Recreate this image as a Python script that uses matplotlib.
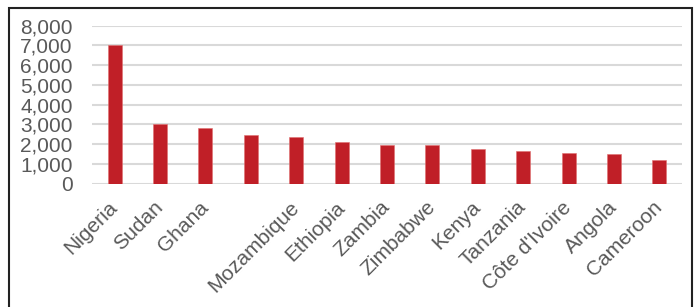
import matplotlib
matplotlib.use("Agg")
import matplotlib.pyplot as plt
from matplotlib.patches import Rectangle
from matplotlib.ticker import FuncFormatter

countries = ["Nigeria", "Sudan", "Ghana", "", "Mozambique", "Ethiopia", "Zambia",
             "Zimbabwe", "Kenya", "Tanzania", "Côte d'Ivoire", "Angola", "Cameroon"]
values = [7020, 3030, 2790, 2440, 2370, 2080, 1970, 1970, 1760, 1650, 1530, 1490, 1210]
yticks = [0, 1000, 2000, 3000, 4000, 5000, 6000, 7000, 8000]

bar_color = "#c01f27"
text_color = "#595959"
grid_color = "#d9d9d9"

plt.rcParams["font.family"] = ["Liberation Sans", "DejaVu Sans"]

fig = plt.figure(figsize=(6.97, 3.07), dpi=100)
ax = fig.add_axes([92 / 697, (307 - 183.5) / 307, 590 / 697, 157.8 / 307])

x = range(len(countries))
ax.bar(x, values, width=0.31, color=bar_color, edgecolor="#e07070", linewidth=0.4, zorder=3)

ax.set_xlim(-0.5, len(countries) - 0.5)
ax.set_ylim(0, 8000)
ax.set_yticks(yticks)
ax.yaxis.set_major_formatter(FuncFormatter(lambda v, p: f"{int(v):,}"))
ax.grid(axis="y", color=grid_color, linewidth=1.5, zorder=0)
ax.set_axisbelow(True)

for s in ax.spines.values():
    s.set_visible(False)

ax.tick_params(axis="y", length=0, pad=14, labelsize=15, labelcolor=text_color)
ax.tick_params(axis="x", length=0, pad=15, labelsize=15, labelcolor=text_color)
ax.set_xticks(list(x))
ax.set_xticklabels(countries, rotation=45, ha="right", va="center", rotation_mode="anchor")

# frame around the whole picture
fig.patches.append(Rectangle((9 / 697, -0.05), 683 / 697, 1.05 - 8 / 307,
                             transform=fig.transFigure, fill=False,
                             edgecolor="#222222", linewidth=1.5))

fig.savefig("out.png", dpi=100)
